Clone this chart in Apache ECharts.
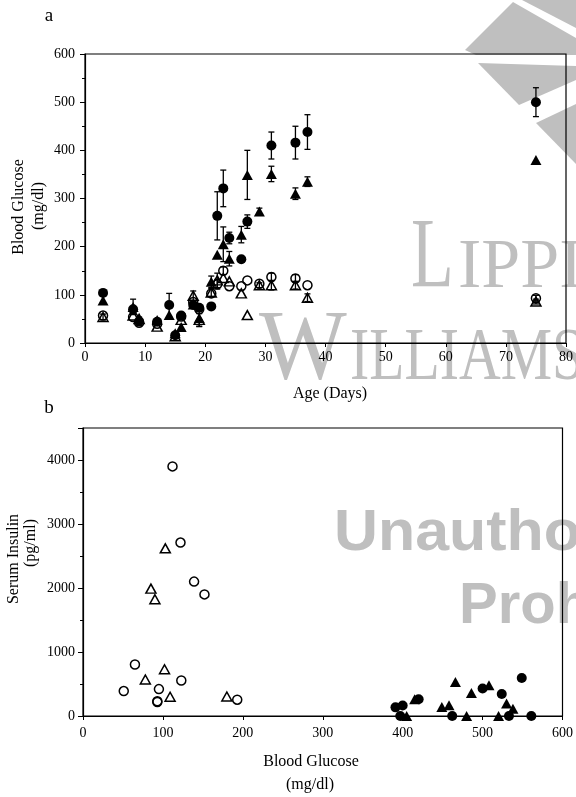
<!DOCTYPE html>
<html>
<head>
<meta charset="utf-8">
<script src="https://cdn.jsdelivr.net/npm/echarts@6/dist/echarts.min.js"></script>
<style>html,body{margin:0;padding:0;background:#fff}#c{width:576px;height:797px}</style>
</head>
<body>
<div id="c"></div>
<script>
// ---------- Panel a: blood glucose vs age ----------
const ageFC = [3,8,9,12,14,15,16,18,19,21,22,23,24,26,27,31,35,37,75];
const bgFC  = [104,70,45,44,79,16,57,79,73,76,264,321,218,174,252,410,416,438,500];
const errFC = [0,0,9,0,24,0,0,0,0,0,50,38,12,0,14,28,34,36,30];

const ageFT = [3,8,9,12,14,15,16,18,19,21,22,23,24,26,27,29,31,35,37,75];
const bgFT  = [88,75,50,48,58,20,33,80,52,127,183,205,175,225,349,273,351,310,335,380];
const errFT = [0,16,0,0,0,0,0,0,18,12,0,36,15,17,51,7,16,12,10,0];

const ageOC = [3,8,9,12,16,18,19,21,22,23,24,26,27,29,31,35,37,75];
const bgOC  = [57,54,42,40,55,85,70,103,122,150,118,118,130,123,137,134,120,93];
const errOC = [0,0,0,0,0,0,0,0,10,8,0,0,0,0,8,8,0,6];

const ageOT = [3,8,9,12,15,16,18,19,21,22,23,24,26,27,29,31,35,37,75];
const bgOT  = [54,57,50,34,14,48,98,48,105,130,135,128,103,58,120,120,120,94,86];
const errOT = [6,0,0,0,0,0,10,13,8,15,0,0,0,0,5,10,8,8,5];

const ageTicks = [0,10,20,30,40,50,60,70,80];
const bgTicksA = [0,100,200,300,400,500,600];

// ---------- Panel b: serum insulin vs blood glucose ----------
const bOCglu = [112,122,139,152,65,51,95,93,93,123,193];
const bOCins = [3900,2710,2100,1900,805,390,420,230,220,555,255];
const bOTglu = [103,85,90,102,78,109,180];
const bOTins = [2620,1990,1825,730,570,300,305];
const bFCglu = [391,400,397,420,462,500,524,549,533,561];
const bFCins = [135,165,0,262,0,430,345,595,0,0];
const bFTglu = [415,466,486,508,449,458,480,520,530,538,405];
const bFTins = [262,533,360,481,141,168,0,0,195,115,0];

const gluTicksB = [0,100,200,300,400,500,600];
const insTicksB = [0,1000,2000,3000,4000];

const SERIF = 'Liberation Serif';
const zip = (a, b) => a.map((v, i) => [v, b[i]]);
const errData = (a, m, e) => a.map((v, i) => [v, m[i] - e[i], m[i] + e[i]]).filter((d, i) => e[i] > 0);

function errRenderer(params, api) {
  const x = api.value(0), lo = api.value(1), hi = api.value(2);
  const pLo = api.coord([x, lo]);
  const pHi = api.coord([x, hi]);
  const w = 3;
  const st = { stroke: '#000', lineWidth: 1.3 };
  return {
    type: 'group',
    children: [
      { type: 'line', shape: { x1: pLo[0], y1: pLo[1], x2: pHi[0], y2: pHi[1] }, style: st },
      { type: 'line', shape: { x1: pHi[0] - w, y1: pHi[1], x2: pHi[0] + w, y2: pHi[1] }, style: st },
      { type: 'line', shape: { x1: pLo[0] - w, y1: pLo[1], x2: pLo[0] + w, y2: pLo[1] }, style: st }
    ]
  };
}

const axisLineStyle = { show: true, lineStyle: { color: '#000', width: 1.2 } };
const labelStyle = { color: '#000', fontFamily: SERIF, fontSize: 14 };

const filled = { color: '#000', opacity: 1 };
const open = { color: 'rgba(255,255,255,0)', borderColor: '#000', borderWidth: 1.5, opacity: 1 };

function scatter(idx, data, symbol, size, style, z) {
  return {
    type: 'scatter', xAxisIndex: idx, yAxisIndex: idx, data: data,
    symbol: symbol, symbolSize: size, itemStyle: style, z: z,
    silent: true, animation: false
  };
}
function errSeries(idx, data) {
  return {
    type: 'custom', xAxisIndex: idx, yAxisIndex: idx, data: data,
    encode: { x: 0, y: [1, 2] }, renderItem: errRenderer, z: 3, silent: true, animation: false
  };
}

const WM = '#bfbfbf';
const wmText = (txt, x, y, size, font, weight, sx) => ({
  type: 'text', x: x, y: y, scaleX: sx, z: -10, silent: true,
  style: { text: txt, fill: WM, font: weight + ' ' + size + 'px "' + font + '"', textAlign: 'left', textVerticalAlign: 'middle' }
});
const titleText = (txt, x, y, size, rot) => ({
  type: 'text', x: x, y: y, rotation: rot || 0, z: 10, silent: true,
  style: { text: txt, fill: '#000', font: size + 'px "' + SERIF + '"', textAlign: 'center', textVerticalAlign: 'middle' }
});

const option = {
  animation: false,
  backgroundColor: '#fff',
  grid: [
    { left: 85, top: 54, width: 481, height: 289, show: true, borderColor: '#000', borderWidth: 1.2, backgroundColor: 'transparent' },
    { left: 83, top: 428, width: 481, height: 288, show: true, borderColor: '#000', borderWidth: 1.2, backgroundColor: 'transparent' }
  ],
  xAxis: [
    {
      type: 'value', gridIndex: 0, min: ageTicks[0], max: ageTicks[ageTicks.length - 1], interval: 10,
      axisLine: axisLineStyle, axisTick: { show: true, length: 4, lineStyle: { color: '#000' } },
      axisLabel: Object.assign({ margin: 7 }, labelStyle), splitLine: { show: false }
    },
    {
      type: 'value', gridIndex: 1, min: gluTicksB[0], max: gluTicksB[gluTicksB.length - 1], interval: 100,
      axisLine: axisLineStyle, axisTick: { show: true, length: 4, lineStyle: { color: '#000' } },
      axisLabel: Object.assign({ margin: 10 }, labelStyle), splitLine: { show: false }
    }
  ],
  yAxis: [
    {
      type: 'value', gridIndex: 0, min: bgTicksA[0], max: bgTicksA[bgTicksA.length - 1], interval: 100,
      axisLine: axisLineStyle, axisTick: { show: true, length: 5, lineStyle: { color: '#000' } },
      minorTick: { show: true, splitNumber: 2, length: 3, lineStyle: { color: '#000' } },
      axisLabel: Object.assign({ margin: 10 }, labelStyle), splitLine: { show: false }, minorSplitLine: { show: false }
    },
    {
      type: 'value', gridIndex: 1, min: 0, max: 4500, interval: 1000,
      axisLine: axisLineStyle, axisTick: { show: true, length: 5, lineStyle: { color: '#000' } },
      minorTick: { show: true, splitNumber: 2, length: 3, lineStyle: { color: '#000' } },
      axisLabel: Object.assign({ margin: 8, formatter: v => (insTicksB.indexOf(v) >= 0 ? String(v) : '') }, labelStyle),
      splitLine: { show: false }, minorSplitLine: { show: false }
    }
  ],
  graphic: [
    // watermark
    { type: 'polygon', z: -10, silent: true, shape: { points: [[522,0],[576,0],[576,28]] }, style: { fill: WM } },
    { type: 'polygon', z: -10, silent: true, shape: { points: [[465,50],[513,2],[576,38],[576,55],[476,55]] }, style: { fill: WM } },
    { type: 'polygon', z: -10, silent: true, shape: { points: [[478,63],[576,66],[576,80],[519,105]] }, style: { fill: WM } },
    { type: 'polygon', z: -10, silent: true, shape: { points: [[536,123],[576,104],[576,164]] }, style: { fill: WM } },
    wmText('L', 411, 259.5, 100, SERIF, 'normal', 0.7),
    wmText('IPPINCOTT', 458, 268.6, 70, SERIF, 'normal', 1.0),
    wmText('W', 259, 351.5, 100, SERIF, 'normal', 0.93),
    wmText('ILLIAMS', 350, 359.4, 74, SERIF, 'normal', 0.78),
    wmText('Unauthorized', 334, 534, 58, 'Liberation Sans', 'bold', 1.05),
    wmText('Prohibited', 459, 607, 58, 'Liberation Sans', 'bold', 1.0),
    // titles
    titleText('a', 49, 16, 19),
    titleText('Blood Glucose', 18.5, 207, 16, Math.PI / 2),
    titleText('(mg/dl)', 39, 206, 16, Math.PI / 2),
    titleText('Age (Days)', 330, 394, 16),
    titleText('b', 49, 408, 19),
    titleText('Serum Insulin', 14, 559, 16, Math.PI / 2),
    titleText('(pg/ml)', 31, 543, 16, Math.PI / 2),
    titleText('Blood Glucose', 311, 762, 16),
    titleText('(mg/dl)', 310, 785, 16)
  ],
  series: [
    scatter(0, zip(ageOC, bgOC), 'circle', 9, open, 2),
    scatter(0, zip(ageOT, bgOT), 'triangle', [10, 9], open, 2),
    errSeries(0, errData(ageFC, bgFC, errFC)),
    errSeries(0, errData(ageFT, bgFT, errFT)),
    errSeries(0, errData(ageOC, bgOC, errOC)),
    errSeries(0, errData(ageOT, bgOT, errOT)),
    scatter(0, zip(ageFC, bgFC), 'circle', 10, filled, 4),
    scatter(0, zip(ageFT, bgFT), 'triangle', [11, 10], filled, 4),

    scatter(1, zip(bOCglu, bOCins), 'circle', 9, open, 2),
    scatter(1, zip(bOTglu, bOTins), 'triangle', [10, 9], open, 2),
    scatter(1, zip(bFCglu, bFCins), 'circle', 10, filled, 4),
    scatter(1, zip(bFTglu, bFTins), 'triangle', [11, 10], filled, 4)
  ]
};

const chart = echarts.init(document.getElementById('c'), null, { renderer: 'canvas' });
chart.setOption(option);
</script>
</body>
</html>
